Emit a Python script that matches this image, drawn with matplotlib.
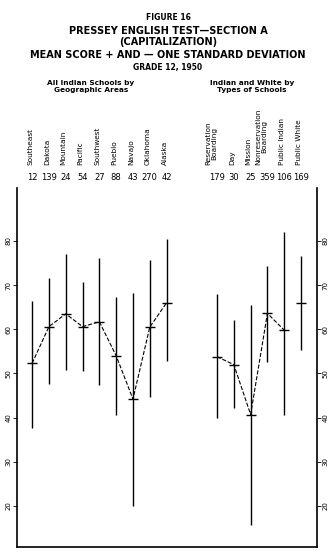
import matplotlib
matplotlib.use("Agg")
import matplotlib.pyplot as plt
import matplotlib.transforms as mtransforms

plt.rcParams['font.family'] = ['DejaVu Sans']

# left group: all Indian schools by geographic area
geo_names = ["Southeast", "Dakota", "Mountain", "Pacific", "Southwest",
             "Pueblo", "Navajo", "Oklahoma", "Alaska"]
geo_n = [12, 139, 24, 54, 27, 88, 43, 270, 42]
geo_mean = [52.3, 60.6, 63.5, 60.6, 61.7, 54.0, 44.2, 60.5, 66.0]
geo_hi = [66.5, 71.6, 77.0, 70.8, 76.2, 67.2, 68.3, 75.8, 80.4]
geo_lo = [37.7, 47.5, 50.7, 50.5, 47.3, 40.5, 20.0, 44.7, 52.9]

# right group: Indian and white by type of school
type_names = ["Reservation\nBoarding", "Day", "Mission",
              "Nonreservation\nBoarding", "Public Indian", "Public White"]
type_n = [179, 30, 25, 359, 106, 169]
type_mean = [53.8, 52.0, 40.7, 63.6, 59.8, 66.0]
type_hi = [68.0, 62.1, 65.6, 74.3, 82.0, 76.6]
type_lo = [39.9, 42.2, 15.6, 52.5, 40.5, 55.3]

yticks = [20, 30, 40, 50, 60, 70, 80]

geo_x = list(range(len(geo_names)))
type_x = [i + len(geo_names) + 2 for i in range(len(type_names))]

fig = plt.figure(figsize=(3.36, 5.59), dpi=100)
ax = fig.add_axes([0.0506, 0.0215, 0.8929, 0.6422])

ax.vlines(geo_x, geo_lo, geo_hi, color='black', lw=1.0)
ax.vlines(type_x, type_lo, type_hi, color='black', lw=1.0)
ax.plot(geo_x, geo_mean, '--', color='black', lw=0.8)
ax.plot(type_x[:-1], type_mean[:-1], '--', color='black', lw=0.8)
ax.plot(geo_x + type_x, geo_mean + type_mean, '_', color='black',
        ms=7, mew=1.0)

ax.set_xlim(-0.9, 16.95)
ax.set_ylim(10.7, 92.0)
ax.spines['top'].set_visible(False)
for s in ['left', 'right', 'bottom']:
    ax.spines[s].set_linewidth(1.2)
ax.set_xticks([])
ax.set_yticks(yticks)
ax.tick_params(axis='y', which='both', left=True, right=True,
               labelleft=True, labelright=True, labelsize=5,
               labelrotation=90, length=3, width=0.6, pad=1)
for lab in ax.get_yticklabels():
    lab.set_va('center')

trans = mtransforms.blended_transform_factory(ax.transData, ax.transAxes)
for x, name, n in zip(geo_x + type_x, geo_names + type_names, geo_n + type_n):
    off = 0.35 if "\n" in name else 0.12
    ax.text(x - off, 1.064, name, rotation=90, ha='center', va='bottom',
            fontsize=5.3, transform=trans, linespacing=1.0)
    ax.text(x, 1.028, str(n), ha='center', va='center', fontsize=6,
            transform=trans)

fig.text(0.5, 0.968, "FIGURE 16", ha='center', va='center',
         fontsize=5.5, fontweight='bold')
fig.text(0.5, 0.945, "PRESSEY ENGLISH TEST\u2014SECTION A", ha='center',
         va='center', fontsize=7, fontweight='bold')
fig.text(0.5, 0.925, "(CAPITALIZATION)", ha='center', va='center',
         fontsize=7, fontweight='bold')
fig.text(0.5, 0.902, "MEAN SCORE + AND \u2014 ONE STANDARD DEVIATION",
         ha='center', va='center', fontsize=7, fontweight='bold')
fig.text(0.5, 0.880, "GRADE 12, 1950", ha='center', va='center',
         fontsize=5.5, fontweight='bold')
fig.text(0.27, 0.845, "All Indian Schools by\nGeographic Areas",
         ha='center', va='center', fontsize=5.3, fontweight='bold',
         linespacing=1.1)
fig.text(0.75, 0.845, "Indian and White by\nTypes of Schools",
         ha='center', va='center', fontsize=5.3, fontweight='bold',
         linespacing=1.1)

fig.savefig("out.png", dpi=100)
